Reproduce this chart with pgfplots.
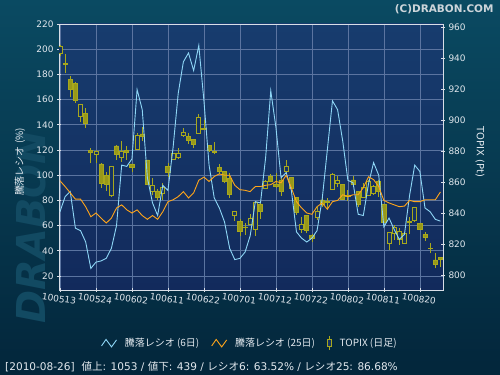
\documentclass[border=0pt]{standalone}
\usepackage{pgfplots}
\pgfplotsset{compat=1.18}
\usepackage{pgfplotstable}
\usepackage{fontspec}
\setmainfont{DejaVu Sans}
\newfontfamily\jp{Noto Sans CJK JP}
\definecolor{bgtop}{HTML}{0A4A62}
\definecolor{bgbot}{HTML}{03263B}
\definecolor{plottop}{HTML}{173C6E}
\definecolor{plotbot}{HTML}{122A5C}
\definecolor{plotmid}{HTML}{153364}
\definecolor{gridc}{HTML}{5B74A0}
\definecolor{axc}{HTML}{D8DEE6}
\definecolor{txt}{HTML}{E2E8EE}
\definecolor{blueline}{HTML}{8ED6F6}
\definecolor{orangeline}{HTML}{FFA51A}
\definecolor{candleedge}{HTML}{A8A81C}
\definecolor{candlefill}{HTML}{98981A}
\definecolor{wm}{HTML}{124A62}
\definecolor{cc}{HTML}{CDD5DA}

\pgfplotstableread{
i o h l c
0 943.0 948.4 941.3 947.7
1 936.1 942.6 930.1 936.3
2 926.2 928.4 914.6 919.4
3 923.7 924.7 910.8 912.9
4 902.2 910.1 898.5 910.1
5 904.3 907.5 895.1 897.8
6 880.6 881.7 872.0 879.1
7 877.8 880.6 872.5 880.0
8 871.6 872.0 856.3 859.1
9 864.1 866.7 854.4 858.5
10 851.2 870.5 850.5 869.9
11 883.2 883.9 874.2 877.8
12 875.9 886.5 873.0 879.6
13 880.4 883.2 874.2 879.2
14 871.6 871.6 866.7 869.5
15 881.1 891.4 880.6 890.3
16 891.0 895.3 886.7 889.2
17 874.2 874.2 858.0 858.5
18 853.8 862.8 851.6 858.1
19 854.2 855.3 848.4 850.1
20 852.7 859.1 848.4 856.6
21 869.9 872.0 863.4 866.0
22 874.6 878.5 874.2 878.1
23 875.9 881.7 874.6 878.7
24 889.9 894.6 889.2 892.0
25 889.2 891.4 884.5 886.7
26 887.7 887.7 881.7 884.3
27 891.4 903.7 891.4 901.7
28 894.6 900.0 893.5 894.0
29 883.4 883.9 879.6 880.2
30 879.4 885.6 877.8 879.0
31 869.5 871.6 865.2 866.7
32 866.7 867.3 859.1 860.2
33 862.4 865.6 849.9 852.0
34 838.5 841.3 835.0 841.3
35 834.6 835.9 825.2 828.0
36 831.0 833.8 825.8 830.9
37 832.9 839.1 832.9 836.6
38 829.5 847.3 825.2 846.9
39 845.6 846.7 836.1 840.9
40 855.9 861.3 855.3 860.2
41 863.9 865.2 860.2 860.6
42 858.7 865.6 856.0 857.4
43 861.3 863.9 851.0 853.8
44 866.7 874.2 865.6 870.3
45 863.0 863.4 855.5 855.9
46 849.9 850.5 838.7 840.2
47 829.5 837.6 827.3 832.3
48 838.3 838.3 826.9 828.6
49 825.2 826.7 821.5 823.7
50 837.0 844.1 835.5 841.3
51 848.4 851.0 844.1 845.6
52 847.5 849.5 843.0 847.0
53 855.5 865.6 854.8 865.0
54 859.1 863.9 857.0 861.1
55 858.5 858.7 848.4 848.8
56 851.2 855.0 848.0 851.0
57 861.3 863.9 857.0 858.3
58 853.8 854.2 844.1 845.6
59 850.1 859.1 849.5 856.6
60 851.6 861.3 851.0 860.4
61 852.3 858.0 851.6 857.2
62 860.4 861.3 850.5 853.8
63 845.2 845.6 833.3 833.8
64 820.4 828.0 816.1 827.5
65 826.9 832.3 822.6 830.8
66 823.0 830.1 819.4 828.4
67 820.4 828.0 820.4 826.5
68 834.8 837.6 826.7 833.8
69 835.1 844.1 834.2 843.7
70 833.3 833.8 829.0 829.5
71 826.2 828.0 822.0 824.3
72 817.2 820.9 814.0 817.0
73 809.7 814.0 804.3 806.9
74 811.4 811.4 805.0 810.1
}\topix

\pgfplotstableread{
i r6 r25
0 71 95.6
1 83 91
2 87 86
3 58 81
4 56 81
5 47 75
6 26 67
7 31 70
8 32 66
9 34 62
10 42 66
11 60 74
12 108 76.5
13 107 72.5
14 113 70
15 168 72.5
16 152 68
17 98 65
18 78 68
19 68 65
20 92 71
21 88 79
22 122 80.5
23 165 83
24 190 87
25 197 82
26 183 86
27 203 96
28 159 98.5
29 108 95
30 82 99
31 74 101
32 63 100
33 42 100
34 33 92
35 34 88.5
36 39 88
37 52 87
38 79 91
39 78 91
40 114 92
41 167 92.5
42 138 95
43 98 94
44 102 100
45 88 90
46 55 79
47 50 74
48 47 70
49 50 69
50 56 75
51 81 78
52 120 73
53 159 79
54 152 80
55 127 84.5
56 96 83
57 94 84.5
58 69 84.5
59 68 90
60 93 98.7
61 110 96.5
62 100 91
63 59 80
64 66 78
65 57 76.5
66 49 75
67 53 75.5
68 84 80
69 108 79
70 103 79
71 74 80.5
72 71 80.5
73 65 80.5
74 63.52 86.68
}\ratio

\pgfplotsset{
  base/.style={scale only axis, width=384bp, height=266bp,
    at={(59bp,85bp)}, anchor=south west, xmin=-0.19, xmax=74.5},
  leftscale/.style={ymin=8.9, ymax=220},
  rightscale/.style={ymin=790.3, ymax=961.9},
  zigzag legend/.style={legend image code/.code={%
    \draw[##1, line width=0.9bp] (0bp,-3bp) -- (4.5bp,3.5bp) -- (10bp,-4bp) -- (15bp,3bp);}},
  candle legend/.style={legend image code/.code={%
    \draw[candleedge, line width=0.8bp] (6bp,-7bp) -- (6bp,7bp);
    \filldraw[draw=candleedge, fill=plotmid, line width=0.8bp] (4bp,-3.5bp) rectangle (8bp,3.5bp);}},
}

\begin{document}
\begin{tikzpicture}
\useasboundingbox (0,0) rectangle (500bp,375bp);
\shade[top color=bgtop, bottom color=bgbot] (0,0) rectangle (500bp,375bp);
\node[rotate=90, font=\bfseries\itshape\fontsize{40}{40}\selectfont, text=wm] at (31bp,148bp) {DRABON};

% Axis A: background, grid, left ticks, date ticks
\begin{axis}[base, leftscale,
  axis background/.style={shade, top color=plottop, bottom color=plotbot},
  xtick={0,7,...,70},
  xticklabels={100513,100524,100602,100611,100622,100701,100712,100722,100802,100811,100820},
  ytick={20,40,...,220},
  xtick pos=left, ytick pos=left,
  grid=major, major grid style={gridc, line width=0.7bp},
  axis line style={axc, line width=0.8bp},
  tick align=center, major tick length=4bp,
  tick style={axc, line width=0.7bp},
  ticklabel style={text=txt, font=\fontsize{9}{10}\selectfont},
  xticklabel style={rotate=-8, anchor=north, yshift=0bp},
  /pgf/number format/assume math mode=true,
]
\end{axis}

% Axis B: TOPIX wicks and right ticks
\begin{axis}[base, rightscale,
  hide x axis, axis y line*=right,
  axis line style={axc, line width=0.8bp, -},
  ytick={800,820,...,960},
  tick align=center, major tick length=4bp,
  tick style={axc, line width=0.7bp},
  ticklabel style={text=txt, font=\fontsize{9}{10}\selectfont},
  /pgf/number format/assume math mode=true,
]
\addplot[draw=none, mark=none, forget plot,
  error bars/.cd, y dir=plus, y explicit, error mark=none,
  error bar style={draw=candleedge, solid, line width=0.8bp}]
  table[x=i, y=l, y error expr=\thisrow{h}-\thisrow{l}] {\topix};
\end{axis}

% Axis C: TOPIX candle bodies
\begin{axis}[base, rightscale, hide axis, ybar stacked, bar width=0.8]
\addplot[draw=none, fill=none] table[x=i, y expr={min(\thisrow{o},\thisrow{c})}] {\topix};
\addplot[draw=candleedge, fill=plotmid, line width=0.8bp] table[x=i, y expr={max(\thisrow{c}-\thisrow{o},0)}] {\topix};
\addplot[draw=candleedge, fill=candlefill, line width=0.8bp] table[x=i, y expr={max(\thisrow{o}-\thisrow{c},0)}] {\topix};
\end{axis}

% Axis D: ratio lines and legend
\begin{axis}[base, leftscale, hide axis,
  legend style={at={(0.497,-0.199)}, anchor=center, draw=none, fill=none,
    legend columns=3, text=txt, font=\jp\fontsize{10}{11}\selectfont,
    /tikz/every even column/.append style={column sep=10bp}},
  legend cell align=left,
]
\addplot[blueline, line width=0.9bp, zigzag legend] table[x=i, y=r6] {\ratio};
\addlegendentry{\hspace{6bp}騰落レシオ (6日)}
\addplot[orangeline, line width=0.9bp, zigzag legend] table[x=i, y=r25] {\ratio};
\addlegendentry{\hspace{6bp}騰落レシオ (25日)}
\addlegendimage{candle legend}
\addlegendentry{\hspace{6bp}TOPIX (日足)}
\end{axis}

\node[rotate=90, text=txt, font=\jp\fontsize{10}{11}\selectfont] at (20bp,213bp) {騰落レシオ (\%)};
\node[rotate=-90, text=txt, font=\fontsize{10}{11}\selectfont] at (480bp,223bp) {TOPIX (Pt)};
\node[anchor=east, text=cc, font=\bfseries\fontsize{10.5}{11}\selectfont] at (497bp,365.5bp) {(C)DRABON.COM};
\node[anchor=west, text=txt, font=\fontsize{10.6}{12}\selectfont, inner sep=0pt] at (5bp,8.5bp)
  {[2010-08-26]\ \ {\jp 値上}: 1053 / {\jp 値下}: 439 / {\jp レシオ}6: 63.52\% / {\jp レシオ}25: 86.68\%};
\end{tikzpicture}
\end{document}
